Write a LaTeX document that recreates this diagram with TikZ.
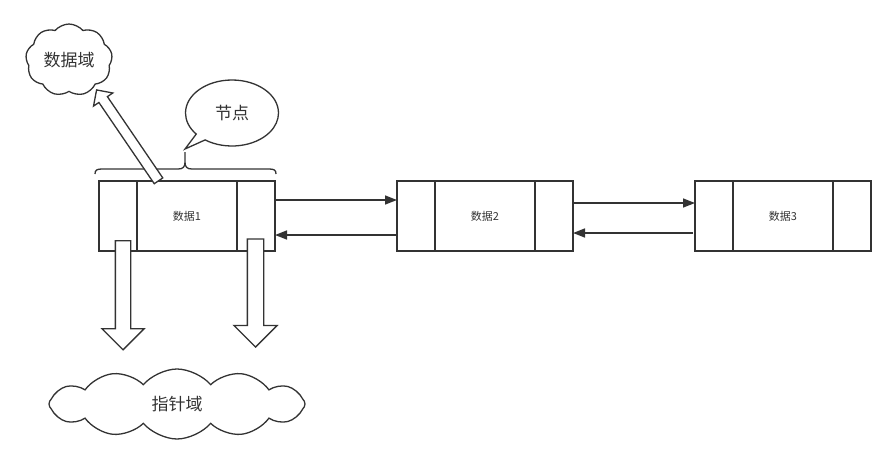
\documentclass[tikz,border=0pt]{standalone}
\usepackage{fontspec}
\setmainfont{Noto Sans CJK SC}
\usepackage{xcolor}
\usepackage{tikz}
\usetikzlibrary{shapes.symbols,shapes.callouts,shapes.arrows,arrows.meta,positioning,calc}
\definecolor{linegray}{HTML}{333333}

\begin{document}
\begin{tikzpicture}[
        x=1pt, y=-1pt,
        cell/.style={rectangle, draw=linegray, line width=1.5pt, minimum width=38pt, minimum height=70pt, inner sep=0pt, outer sep=0pt},
        datacell/.style={cell, minimum width=100pt, text=linegray, font=\fontsize{11}{13}\selectfont},
        cloudnote/.style={cloud, cloud puffs=10, cloud puff arc=100, draw=linegray, line width=1.3pt, text=linegray, font=\fontsize{17}{20}\selectfont},
        hollow/.style={single arrow, draw=linegray, fill=white, line width=1.3pt, single arrow head indent=0pt, allow upside down},
        link/.style={-{Triangle[length=12pt,width=9pt]}, draw=linegray, line width=1.5pt}
    ]
        \useasboundingbox (0,0) rectangle (896,471);

        % List nodes
        \node[datacell] (d1) at (187,216) {数据1};
        \node[cell, left=0pt of d1] (p1) {};
        \node[cell, right=0pt of d1] (n1) {};

        \node[datacell] (d2) at (485,216) {数据2};
        \node[cell, left=0pt of d2] (p2) {};
        \node[cell, right=0pt of d2] (n2) {};

        \node[datacell] (d3) at (783,216) {数据3};
        \node[cell, left=0pt of d3] (p3) {};
        \node[cell, right=0pt of d3] (n3) {};

        % Links
        \draw[link] ([yshift=16pt]n1.east) -- ([yshift=16pt]p2.west);
        \draw[link] ([yshift=-19pt]p2.west) -- ([yshift=-19pt]n1.east);
        \draw[link] ([yshift=13pt]n2.east) -- ([yshift=13pt]p3.west);
        \draw[link] ([yshift=-17pt,xshift=-2pt]p3.west) -- ([yshift=-17pt]n2.east);

        % Brace over the first node
        \draw[linegray, line width=1.3pt]
            (95,174) .. controls (95,170) and (97,169) .. (102,169) -- (178,169)
            .. controls (183,169) and (185,167) .. (185,162) -- (185,152)
            (185,162) .. controls (185,167) and (187,169) .. (192,169) -- (269,169)
            .. controls (274,169) and (276,170) .. (276,174);

        % Notes
        \node[ellipse callout, draw=linegray, line width=1.3pt, fill=white, minimum width=93pt, minimum height=66pt,
              callout absolute pointer={(185,149)}, text=linegray, font=\fontsize{17}{20}\selectfont] (nodenote) at (232,113) {节点};
        \node[cloudnote, cloud puffs=9, aspect=1.3, minimum width=84pt, minimum height=54pt] (datanote) at (69,60) {数据域};
        \node[cloudnote, cloud puffs=12, aspect=2.6, minimum width=256pt, minimum height=70pt] (ptrnote) at (177,404) {指针域};

        % Hollow arrows
        \coordinate (dtail) at (160,183);
        \coordinate (dtip) at (98,92);
        \coordinate (ptail) at (123,237);
        \coordinate (ptip) at (123,346);
        \coordinate (ntail) at (255.5,235);
        \coordinate (ntip) at (255.5,343);
        \path (dtail) -- (dtip) node[midway, sloped, hollow, inner sep=4.5pt, single arrow head extend=6.5pt, minimum height=110pt] {};
        \path (ptail) -- (ptip) node[midway, sloped, hollow, inner sep=7pt, single arrow head extend=13.5pt, minimum height=109pt] {};
        \path (ntail) -- (ntip) node[midway, sloped, hollow, inner sep=7.5pt, single arrow head extend=13.5pt, minimum height=108pt] {};

    \end{tikzpicture}
\end{document}
